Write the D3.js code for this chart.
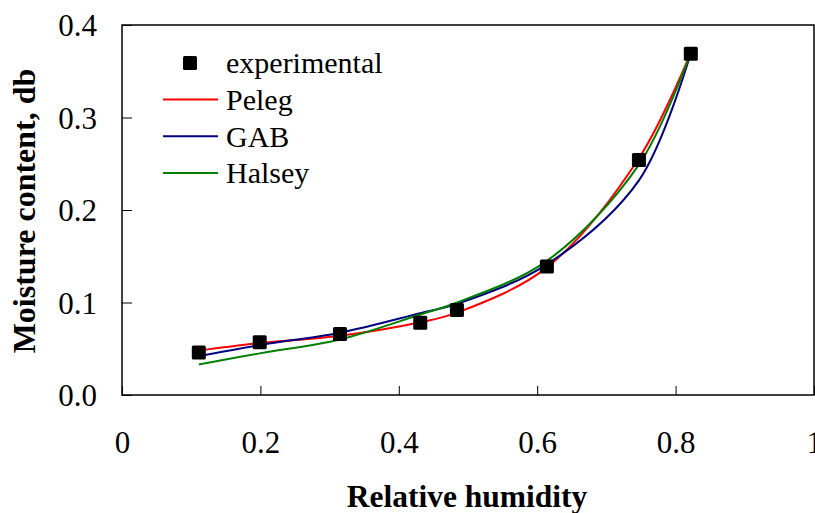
<!DOCTYPE html>
<html>
<head>
<meta charset="utf-8">
<script src="https://d3js.org/d3.v7.min.js"></script>
<style>
  body { margin: 0; background: #fff; }
  svg { display: block; font-family: "Liberation Serif", "Times New Roman", serif; }
</style>
</head>
<body>
<svg width="815" height="513"></svg>
<script>
// water activity values and measured / fitted moisture content (dry basis)
var aw = [0.111, 0.199, 0.315, 0.431, 0.484, 0.614, 0.747, 0.822]
var experimental = [0.046, 0.057, 0.066, 0.078, 0.092, 0.139, 0.254, 0.369]
var peleg  = [0.048, 0.056, 0.064, 0.0786, 0.089, 0.138, 0.256, 0.370]
var gab    = [0.042, 0.054, 0.0674, 0.0885, 0.0985, 0.1413, 0.232, 0.370]
var halsey = [0.033, 0.045, 0.060, 0.087, 0.100, 0.145, 0.249, 0.370]

var xTicks = [0, 0.2, 0.4, 0.6, 0.8, 1]
var xTickLabels = ["0", "0.2", "0.4", "0.6", "0.8", "1"]
var yTicks = [0, 0.1, 0.2, 0.3, 0.4]
var yTickLabels = ["0.0", "0.1", "0.2", "0.3", "0.4"]

var seriesNames = ["Peleg", "GAB", "Halsey"]
var seriesColors = ["#ff0000", "#000080", "#008000"]

const plotL = 122, plotR = 814, plotT = 25, plotB = 395

var svg = d3.select("svg")
var x = d3.scaleLinear().domain([0, 1]).range([plotL, plotR])
var y = d3.scaleLinear().domain([0, 0.4]).range([plotB, plotT])

// frame
svg.append("rect")
  .attr("x", plotL).attr("y", plotT)
  .attr("width", plotR - plotL).attr("height", plotB - plotT)
  .attr("fill", "none").attr("stroke", "#000").attr("stroke-width", 1.5)

// y axis
var yAxis = svg.append("g")
  .attr("transform", "translate(" + plotL + ",0)")
  .call(d3.axisLeft(y).tickValues(yTicks).tickSize(-10).tickPadding(25)
    .tickFormat(function(d, i){ return yTickLabels[i] }))
yAxis.select(".domain").remove()
yAxis.selectAll("line").attr("stroke", "#000").attr("stroke-width", 1)
yAxis.selectAll("text")
  .attr("fill", "#000").attr("font-size", 31)
  .attr("font-family", "Liberation Serif")
  .attr("dy", "0.35em")

// x axis
var xAxis = svg.append("g")
  .attr("transform", "translate(0," + plotB + ")")
  .call(d3.axisBottom(x).tickValues(xTicks).tickSize(-9).tickPadding(10)
    .tickFormat(function(d, i){ return xTickLabels[i] }))
xAxis.select(".domain").remove()
xAxis.selectAll("line").attr("stroke", "#000").attr("stroke-width", 1)
xAxis.selectAll("text")
  .attr("fill", "#000").attr("font-size", 31)
  .attr("font-family", "Liberation Serif")
  .attr("y", 58).attr("dy", null)

// axis titles
svg.append("text")
  .attr("x", 467).attr("y", 507)
  .attr("text-anchor", "middle")
  .attr("font-weight", "bold").attr("font-size", 31.5)
  .text("Relative humidity")
svg.append("text")
  .attr("transform", "translate(35,211) rotate(-90)")
  .attr("text-anchor", "middle")
  .attr("font-weight", "bold").attr("font-size", 32)
  .text("Moisture content, db")

// model curves
var curves = [peleg, gab, halsey]
var line = d3.line()
  .x(function(d){ return x(d[0]) })
  .y(function(d){ return y(d[1]) })
  .curve(d3.curveCatmullRom)
curves.forEach(function(vals, k){
  svg.append("path")
    .datum(aw.map(function(a, i){ return [a, vals[i]] }))
    .attr("fill", "none")
    .attr("stroke", seriesColors[k])
    .attr("stroke-width", 2)
    .attr("d", line)
})

// experimental points
const ms = 14
svg.append("g").selectAll("rect")
  .data(aw.map(function(a, i){ return [a, experimental[i]] }))
  .enter().append("rect")
  .attr("x", function(d){ return x(d[0]) - ms/2 })
  .attr("y", function(d){ return y(d[1]) - ms/2 })
  .attr("width", ms).attr("height", ms)
  .attr("rx", 1.5)
  .attr("fill", "#000")

// legend
var lg = svg.append("g").attr("font-size", 30)
lg.append("rect")
  .attr("x", 190 - ms/2).attr("y", 63 - ms/2)
  .attr("width", ms).attr("height", ms).attr("rx", 1.5)
  .attr("fill", "#000")
lg.append("text").attr("x", 226).attr("y", 73).text("experimental")
seriesNames.forEach(function(name, k){
  var yy = 99.5 + k * 36.7
  lg.append("line")
    .attr("x1", 163).attr("x2", 218)
    .attr("y1", yy).attr("y2", yy)
    .attr("stroke", seriesColors[k]).attr("stroke-width", 2)
  lg.append("text").attr("x", 226).attr("y", yy + 10.5).text(name)
})
</script>
</body>
</html>
